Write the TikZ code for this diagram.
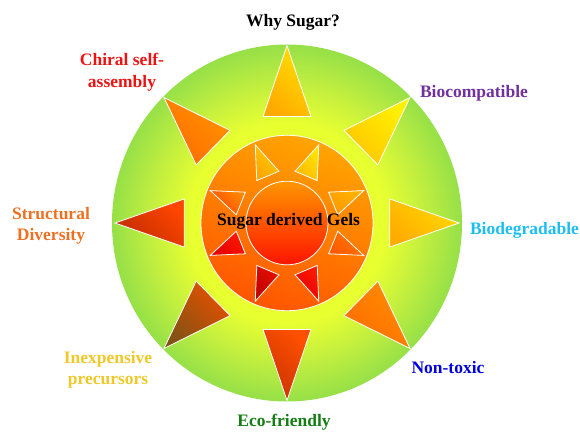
\documentclass[tikz,border=0pt]{standalone}
\usepackage{fontspec}
\setmainfont{Liberation Serif}
\usepackage{xcolor}
\usetikzlibrary{positioning}

\definecolor{ringYellow}{RGB}{232,255,48}
\definecolor{ringMid}{RGB}{198,240,62}
\definecolor{ringGreen}{RGB}{150,224,72}
\definecolor{discTop}{RGB}{255,165,0}
\definecolor{discBot}{RGB}{255,85,0}
\definecolor{coreTop}{RGB}{255,150,0}
\definecolor{coreBot}{RGB}{255,20,0}
\definecolor{oliveBrown}{RGB}{130,82,20}

\definecolor{chiralRed}{RGB}{235,20,20}
\definecolor{bioPurple}{RGB}{112,48,160}
\definecolor{bioBlue}{RGB}{30,190,240}
\definecolor{toxBlue}{RGB}{0,0,220}
\definecolor{ecoGreen}{RGB}{20,125,20}
\definecolor{cheapGold}{RGB}{240,200,40}
\definecolor{structOrange}{RGB}{238,112,35}

\pgfdeclareradialshading{ringshade}{\pgfpointorigin}{color(0bp)=(ringYellow); color(14bp)=(ringYellow); color(19bp)=(ringMid); color(25bp)=(ringGreen); color(50bp)=(ringGreen)}

\tikzset{
  rim/.style     = {draw=white, line width=0.8pt},
  ray/.style 2 args = {draw=white, line width=0.8pt, top color=#1, bottom color=#2, shading angle=-45},
  lbl/.style     = {font=\bfseries\fontsize{17.5}{21.5}\selectfont, align=center, inner sep=0pt},
}

\begin{document}
\begin{tikzpicture}[x=1pt, y=1.02pt]
  \useasboundingbox (-287pt,-210pt) rectangle (293pt,223pt);

  %% Outer ring
  \shade[shading=ringshade] (0,0) circle (175);

  %% Outer rays
  \draw[ray={yellow!75!orange}{yellow!33!orange}] (90:174) -- (102.9:107.2) -- (77.1:107.2) -- cycle;
  \draw[ray={yellow!90!orange}{yellow!55!orange}] (45:174) -- (57.9:107.2) -- (32.1:107.2) -- cycle;
  \draw[ray={yellow!70!orange}{yellow!35!orange}] (0:172) -- (12.9:105.5) -- (-12.9:105.5) -- cycle;
  \draw[ray={yellow!10!orange}{orange!85!red}] (-45:174) -- (-32.1:107.2) -- (-57.9:107.2) -- cycle;
  \draw[ray={orange!63!red}{orange!50!red!80!black}] (-90:174) -- (-77.1:107.2) -- (-102.9:107.2) -- cycle;
  \draw[ray={orange!70!red!90!black}{oliveBrown}] (-135:174) -- (-122.1:107.2) -- (-147.9:107.2) -- cycle;
  \draw[ray={orange!55!red}{orange!45!red!75!black}] (180:172) -- (192.9:105.5) -- (167.1:105.5) -- cycle;
  \draw[ray={yellow!15!orange}{orange!85!red}] (135:174) -- (147.9:107.2) -- (122.1:107.2) -- cycle;

  %% Inner disc and core
  \draw[rim, top color=discTop, bottom color=discBot, shading angle=-20] (0,0) circle (86);
  \draw[rim, top color=coreTop, bottom color=coreBot] (0,0) circle (41);

  %% Inner rays
  \draw[ray={yellow!40!orange}{yellow!20!orange}] (22.5:83) -- (36:51.4) -- (9:51.4) -- cycle;
  \draw[ray={yellow!80!orange}{yellow!45!orange}] (67.5:83) -- (81:51.4) -- (54:51.4) -- cycle;
  \draw[ray={yellow!60!orange}{yellow!30!orange}] (112.5:83) -- (126:51.4) -- (99:51.4) -- cycle;
  \draw[ray={yellow!5!orange}{orange!55!red}] (157.5:83) -- (171:51.4) -- (144:51.4) -- cycle;
  \draw[ray={orange!20!red}{red!90!black}] (202.5:83) -- (216:51.4) -- (189:51.4) -- cycle;
  \draw[ray={orange!15!red!90!black}{red!75!black}] (247.5:83) -- (261:51.4) -- (234:51.4) -- cycle;
  \draw[ray={orange!20!red}{red!88!black}] (292.5:83) -- (306:51.4) -- (279:51.4) -- cycle;
  \draw[ray={orange!95!red}{orange!70!red}] (337.5:83) -- (351:51.4) -- (324:51.4) -- cycle;

  %% Labels
  \node[lbl] (gels)   at (1.5, 2)      {Sugar derived Gels};
  \node[lbl] (why)    at (6, 197)      {Why Sugar?};
  \node[lbl, text=chiralRed]    (chiral) at (-165, 148)  {Chiral self-\\assembly};
  \node[lbl, text=bioPurple]    (compat) at (187, 127.5) {Biocompatible};
  \node[lbl, text=bioBlue]      (degrad) at (237.5, -7)  {Biodegradable};
  \node[lbl, text=toxBlue]      (nontox) at (161, -142)  {Non-toxic};
  \node[lbl, text=ecoGreen]     (eco)    at (-3, -195)   {Eco-friendly};
  \node[lbl, text=cheapGold]    (cheap)  at (-179, -144) {Inexpensive\\precursors};
  \node[lbl, text=structOrange] (struct) at (-236, -3)   {Structural\\Diversity};

\end{tikzpicture}
\end{document}
